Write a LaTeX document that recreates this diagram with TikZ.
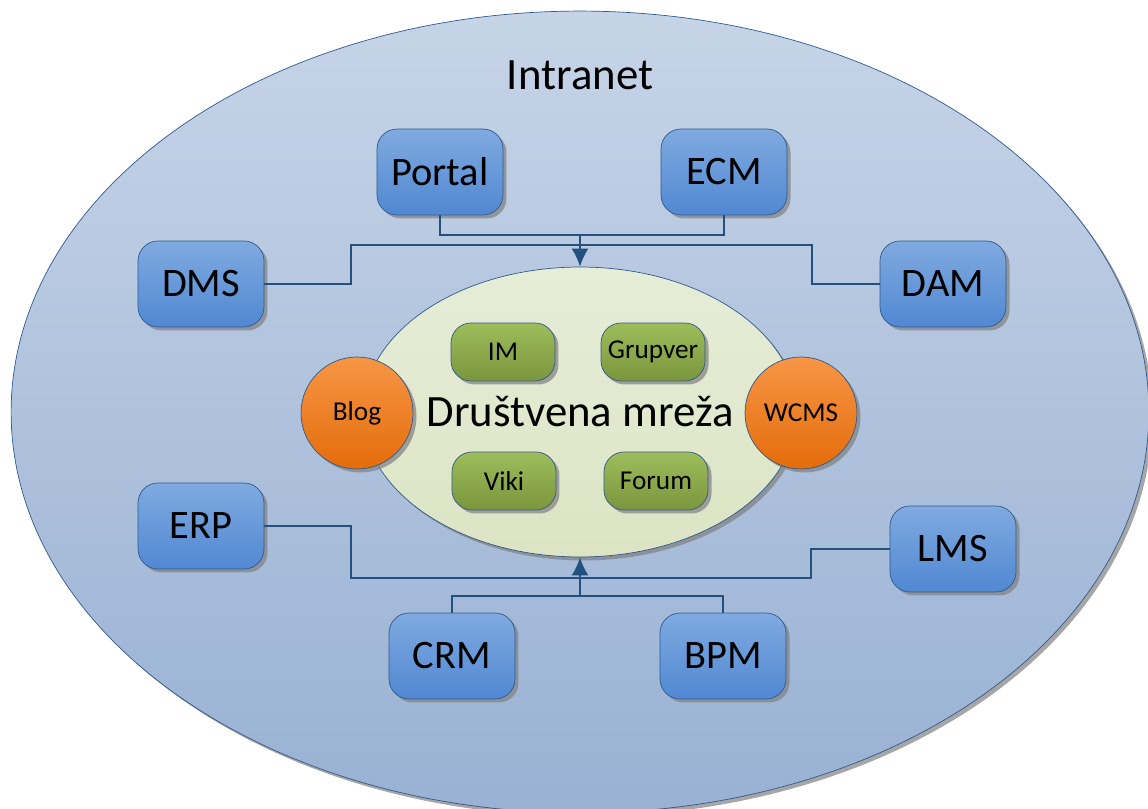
\documentclass[tikz,border=0pt]{standalone}
\usepackage{fontspec}
\setmainfont{Carlito}
\usepackage{xcolor}
\usetikzlibrary{shapes.geometric, arrows.meta, positioning, shadows}

\definecolor{edgeblue}{HTML}{2F5A8E}
\definecolor{linkblue}{HTML}{24507F}
\definecolor{boxtop}{HTML}{80AAE0}
\definecolor{boxbot}{HTML}{5088D2}
\definecolor{greentop}{HTML}{9DBD5B}
\definecolor{greenbot}{HTML}{7A963E}
\definecolor{orangetop}{HTML}{F79646}
\definecolor{orangebot}{HTML}{E46C0A}
\definecolor{areatop}{HTML}{C6D4E7}
\definecolor{areabot}{HTML}{99B1D3}
\definecolor{coretop}{HTML}{E6EDD8}
\definecolor{corebot}{HTML}{DCE4C4}

\begin{document}
\begin{tikzpicture}[x=0.02cm, y=0.02cm,
    shade/.style={drop shadow={shadow xshift=0.07cm, shadow yshift=-0.07cm, fill=black!50, opacity=0.7}},
    sysblock/.style={rectangle, draw=edgeblue, top color=boxtop, bottom color=boxbot, rounded corners=0.4cm, minimum width=2.52cm, minimum height=1.72cm, text centered, font=\fontsize{23}{27}\selectfont, shade},
    toolblock/.style={rectangle, draw=edgeblue, top color=greentop, bottom color=greenbot, rounded corners=0.4cm, minimum width=2.08cm, minimum height=1.16cm, text centered, font=\fontsize{15.5}{18}\selectfont, shade},
    webblock/.style={circle, draw=edgeblue, top color=orangetop, bottom color=orangebot, minimum size=2.24cm, inner sep=0pt, font=\fontsize{15.5}{18}\selectfont, shade},
    line/.style={draw=linkblue, line width=1.2pt},
    arrow/.style={line, -{Latex[length=3.6mm, width=3.4mm]}}]

    \useasboundingbox (0,0) rectangle (1148,808);
    \clip (0,0) rectangle (1148,808);

    % intranet area
    \node [ellipse, draw=edgeblue, top color=areatop, bottom color=areabot, minimum width=22.76cm, minimum height=16.04cm, shade] (area) at (580,396) {};
    \node [font=\fontsize{25.5}{30}\selectfont] (intranet) at (580,733) {Intranet};

    % social network core
    \node [ellipse, draw=edgeblue, top color=coretop, bottom color=corebot, minimum width=7.8cm, minimum height=5.8cm, inner sep=0pt, font=\fontsize{25.5}{30}\selectfont, shade] (social) at (580,396) {Društvena mreža};
    \node [toolblock] (im) at (503,456) {IM};
    \node [toolblock] (grupver) at (653,456) {Grupver};
    \node [toolblock] (viki) at (504,327) {Viki};
    \node [toolblock] (forum) at (656,327) {Forum};
    \node [webblock] (blog) at (357,395) {Blog};
    \node [webblock] (wcms) at (801,395) {WCMS};

    % systems
    \node [sysblock] (portal) at (440,636) {Portal};
    \node [sysblock] (ecm) at (724,636) {ECM};
    \node [sysblock] (dms) at (201,524) {DMS};
    \node [sysblock] (dam) at (943,524) {DAM};
    \node [sysblock] (erp) at (201,282) {ERP};
    \node [sysblock] (lms) at (953,259) {LMS};
    \node [sysblock] (crm) at (452,152) {CRM};
    \node [sysblock] (bpm) at (723,152) {BPM};

    \coordinate (topjoin) at (580,573);
    \coordinate (topleft) at (351,563);
    \coordinate (topright) at (812,563);
    \coordinate (botjoin) at (580,212);
    \coordinate (botleft) at (351,230);
    \coordinate (botright) at (811,230);

    \path [line] (portal.south) |- (topjoin) -| (ecm.south);
    \path [line] (dms.east) -| (topleft) -- (topright) |- (dam.west);
    \path [arrow] (topjoin) -- (social.north);

    \path [line] (erp.east) -| (botleft) -- (botright) |- (lms.west);
    \path [line] (crm.north) |- (botjoin) -| (bpm.north);
    \path [arrow] (botjoin) -- (social.south);
\end{tikzpicture}
\end{document}
